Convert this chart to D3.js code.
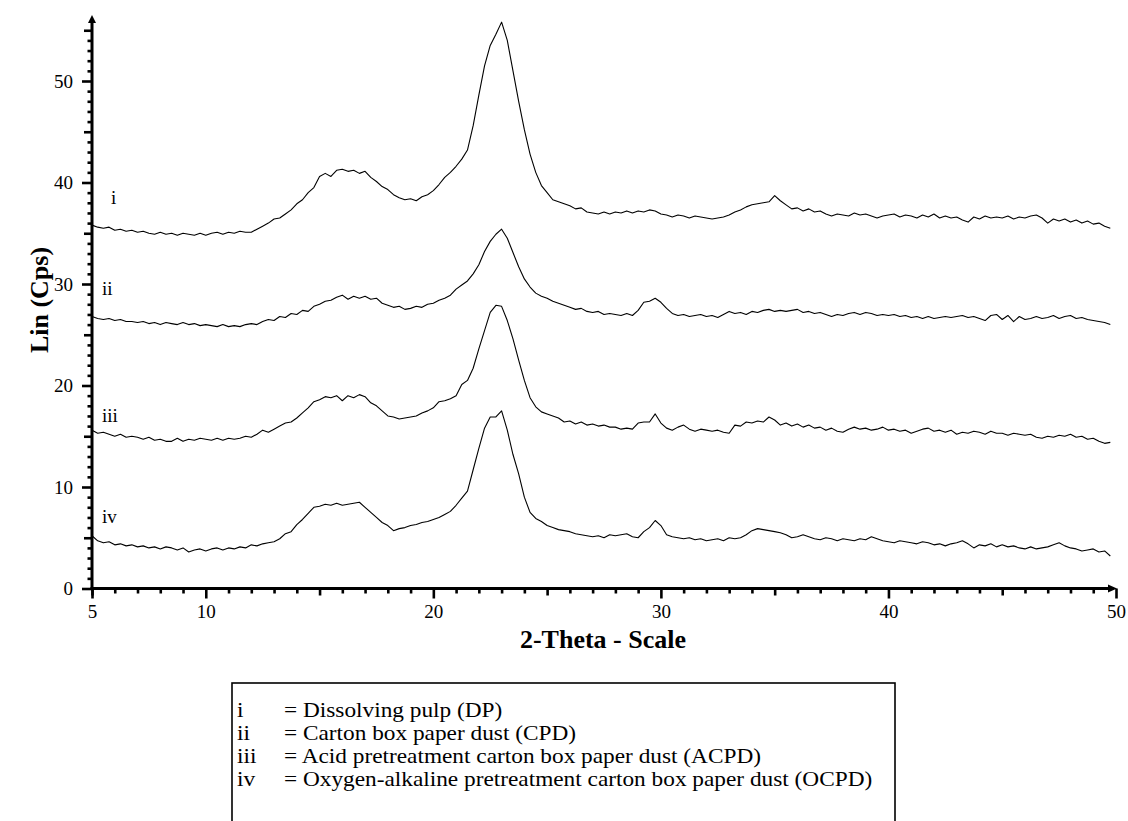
<!DOCTYPE html>
<html>
<head>
  <title>XRD patterns</title>
  <style>
    body { margin: 0; background: #fff; }
    text { font-family: "Liberation Serif", "Times New Roman", serif; fill: #000; }
  </style>
</head>
<body>
  <svg id="chart"></svg>
  <script src="https://d3js.org/d3.v7.min.js"></script>
  <script>
    // scan angles (2-theta, degrees), one row per degree
    const twoTheta = [
      5, 5.25, 5.5, 5.75, 6, 6.25, 6.5, 6.75, 7, 7.25, 7.5, 7.75, 8, 8.25, 8.5, 8.75,
      9, 9.25, 9.5, 9.75, 10, 10.25, 10.5, 10.75, 11, 11.25, 11.5, 11.75, 12, 12.25, 12.5, 12.75,
      13, 13.25, 13.5, 13.75, 14, 14.25, 14.5, 14.75, 15, 15.25, 15.5, 15.75, 16, 16.25, 16.5, 16.75,
      17, 17.25, 17.5, 17.75, 18, 18.25, 18.5, 18.75, 19, 19.25, 19.5, 19.75, 20, 20.25, 20.5, 20.75,
      21, 21.25, 21.5, 21.75, 22, 22.25, 22.5, 22.75, 23, 23.25, 23.5, 23.75, 24, 24.25, 24.5, 24.75,
      25, 25.25, 25.5, 25.75, 26, 26.25, 26.5, 26.75, 27, 27.25, 27.5, 27.75, 28, 28.25, 28.5, 28.75,
      29, 29.25, 29.5, 29.75, 30, 30.25, 30.5, 30.75, 31, 31.25, 31.5, 31.75, 32, 32.25, 32.5, 32.75,
      33, 33.25, 33.5, 33.75, 34, 34.25, 34.5, 34.75, 35, 35.25, 35.5, 35.75, 36, 36.25, 36.5, 36.75,
      37, 37.25, 37.5, 37.75, 38, 38.25, 38.5, 38.75, 39, 39.25, 39.5, 39.75, 40, 40.25, 40.5, 40.75,
      41, 41.25, 41.5, 41.75, 42, 42.25, 42.5, 42.75, 43, 43.25, 43.5, 43.75, 44, 44.25, 44.5, 44.75,
      45, 45.25, 45.5, 45.75, 46, 46.25, 46.5, 46.75, 47, 47.25, 47.5, 47.75, 48, 48.25, 48.5, 48.75,
      49, 49.25, 49.5, 49.75
    ];

    // i - dissolving pulp
    const dp = [
      35.8, 35.6, 35.5, 35.6,  35.3, 35.4, 35.2, 35.3,  35.1, 35.2, 35.0, 34.9,  35.1, 34.9, 35.0, 34.8,
      35.0, 34.9, 34.8, 35.0,  34.8, 35.0, 35.1, 34.9,  35.1, 35.0, 35.2, 35.1,  35.1, 35.4, 35.7, 36.0,
      36.4, 36.5, 36.9, 37.3,  37.9, 38.3, 39.0, 39.5,  40.6, 40.9, 40.6, 41.2,  41.3, 41.1, 41.2, 40.9,
      41.1, 40.5, 40.1, 39.6,  39.3, 38.8, 38.5, 38.3,  38.4, 38.2, 38.6, 38.8,  39.2, 39.8, 40.5, 41.0,
      41.6, 42.3, 43.2, 45.6,  48.6, 51.5, 53.5, 54.6,  55.8, 54.0, 51.0, 48.0,  45.2, 42.8, 41.0, 39.7,
      39.0, 38.3, 38.1, 37.9,  37.7, 37.4, 37.5, 37.1,  37.0, 36.9, 37.1, 36.9,  37.1, 37.0, 37.2, 37.0,
      37.2, 37.1, 37.3, 37.2,  36.9, 36.8, 36.6, 36.8,  36.7, 36.5, 36.7, 36.6,  36.5, 36.4, 36.5, 36.6,
      36.8, 37.1, 37.3, 37.6,  37.8, 37.9, 38.0, 38.1,  38.7, 38.2, 37.8, 37.4,  37.5, 37.2, 37.4, 37.1,
      37.2, 36.9, 36.7, 36.9,  36.8, 36.7, 37.0, 36.8,  36.9, 36.7, 36.5, 36.7,  36.8, 36.9, 36.6, 36.8,
      36.7, 36.5, 36.8, 36.6,  36.9, 36.5, 36.7, 36.5,  36.6, 36.3, 36.1, 36.6,  36.4, 36.7, 36.5, 36.6,
      36.5, 36.7, 36.4, 36.6,  36.5, 36.7, 36.8, 36.5,  36.0, 36.4, 36.2, 36.4,  36.1, 36.3, 36.0, 36.2,
      35.9, 36.0, 35.7, 35.5
    ];

    // ii - carton box paper dust
    const cpd = [
      26.8, 26.6, 26.5, 26.6,  26.4, 26.5, 26.3, 26.3,  26.2, 26.3, 26.1, 26.2,  26.0, 26.2, 26.1, 26.0,
      26.2, 26.0, 26.1, 25.9,  26.0, 25.9, 25.8, 26.0,  25.8, 25.9, 25.8, 26.0,  26.1, 26.0, 26.3, 26.5,
      26.4, 26.8, 26.7, 27.1,  27.0, 27.4, 27.3, 27.8,  28.0, 28.3, 28.4, 28.7,  28.9, 28.5, 28.8, 28.6,
      28.8, 28.5, 28.6, 28.1,  27.9, 27.7, 27.8, 27.5,  27.6, 27.8, 27.7, 28.0,  28.1, 28.4, 28.6, 28.9,
      29.5, 29.9, 30.3, 31.0,  31.9, 33.2, 34.2, 34.9,  35.4, 34.5, 33.1, 31.7,  30.5, 29.7, 29.1, 28.8,
      28.6, 28.3, 28.1, 27.9,  27.7, 27.5, 27.6, 27.3,  27.2, 27.3, 27.0, 27.1,  27.0, 26.9, 27.1, 26.9,
      27.4, 28.2, 28.3, 28.6,  28.2, 27.6, 27.1, 26.9,  27.0, 26.8, 26.9, 27.0,  26.8, 26.9, 26.7, 27.0,
      27.3, 27.1, 27.2, 27.0,  27.3, 27.2, 27.4, 27.5,  27.3, 27.4, 27.3, 27.4,  27.5, 27.2, 27.3, 27.1,
      27.2, 27.0, 26.8, 27.0,  26.9, 27.1, 27.2, 27.0,  27.2, 27.1, 26.9, 27.0,  26.9, 27.0, 26.8, 26.9,
      26.7, 26.8, 26.6, 26.8,  26.6, 26.7, 26.8, 26.7,  26.8, 26.9, 26.7, 26.8,  26.6, 26.4, 26.9, 27.0,
      26.5, 26.9, 26.3, 26.8,  26.5, 26.6, 26.8, 26.6,  26.7, 26.9, 26.6, 26.8,  26.9, 26.6, 26.7, 26.5,
      26.4, 26.3, 26.2, 26.0
    ];

    // iii - acid pretreated
    const acpd = [
      15.6, 15.3, 15.4, 15.2,  15.0, 15.2, 14.9, 15.0,  14.9, 14.7, 14.9, 14.6,  14.7, 14.5, 14.5, 14.8,
      14.5, 14.7, 14.6, 14.8,  14.7, 14.6, 14.8, 14.6,  14.8, 14.7, 14.8, 15.0,  14.9, 15.2, 15.6, 15.4,
      15.7, 16.0, 16.3, 16.4,  16.8, 17.3, 17.8, 18.4,  18.6, 18.9, 18.8, 19.0,  18.5, 19.0, 18.8, 19.1,
      18.9, 18.3, 18.0, 17.5,  17.0, 16.9, 16.7, 16.8,  16.9, 17.0, 17.3, 17.5,  17.8, 18.4, 18.5, 18.7,
      19.0, 20.1, 20.5, 21.7,  23.6, 25.4, 27.2, 27.9,  27.8, 26.4, 24.6, 22.5,  20.5, 18.8, 17.9, 17.4,
      17.2, 17.0, 16.8, 16.4,  16.5, 16.2, 16.4, 16.1,  16.2, 16.0, 16.1, 15.9,  15.9, 15.7, 15.8, 15.7,
      16.3, 16.4, 16.4, 17.2,  16.3, 15.8, 15.6, 15.9,  16.1, 15.7, 15.5, 15.7,  15.6, 15.5, 15.6, 15.4,
      15.3, 16.1, 16.0, 16.4,  16.3, 16.5, 16.4, 16.9,  16.6, 16.1, 16.3, 16.0,  16.2, 15.9, 16.1, 15.8,
      15.9, 15.6, 15.8, 15.5,  15.4, 15.7, 15.9, 15.7,  15.8, 15.6, 15.7, 15.9,  15.6, 15.7, 15.5, 15.6,
      15.3, 15.5, 15.7, 15.8,  15.5, 15.6, 15.4, 15.6,  15.2, 15.4, 15.3, 15.5,  15.4, 15.2, 15.5, 15.3,
      15.3, 15.1, 15.3, 15.2,  15.1, 15.2, 14.9, 14.8,  15.0, 14.9, 15.1, 15.0,  15.2, 14.9, 15.0, 14.7,
      14.8, 14.5, 14.3, 14.4
    ];

    // iv - oxygen-alkaline pretreated
    const ocpd = [
      5.2, 4.7, 4.5, 4.6,  4.3, 4.4, 4.2, 4.3,  4.1, 4.2, 4.0, 4.1,  3.9, 4.1, 4.0, 3.8,
      4.0, 3.6, 3.8, 3.9,  3.7, 3.9, 4.0, 3.8,  4.0, 3.9, 4.1, 4.0,  4.3, 4.2, 4.4, 4.5,
      4.6, 4.9, 5.4, 5.6,  6.3, 6.8, 7.4, 8.0,  8.1, 8.3, 8.2, 8.4,  8.2, 8.3, 8.4, 8.5,
      8.0, 7.5, 7.0, 6.5,  6.2, 5.7, 5.9, 6.0,  6.2, 6.3, 6.5, 6.6,  6.8, 7.0, 7.3, 7.6,
      8.2, 8.9, 9.6, 11.7,  13.8, 15.8, 16.9, 16.9,  17.5, 15.6, 13.2, 11.3,  9.0, 7.5, 6.9, 6.6,
      6.2, 6.0, 5.8, 5.7,  5.6, 5.4, 5.3, 5.2,  5.1, 5.2, 5.0, 5.3,  5.2, 5.3, 5.4, 5.1,
      5.0, 5.6, 6.0, 6.7,  6.2, 5.3, 5.1, 5.0,  4.9, 5.0, 4.8, 4.9,  4.7, 4.8, 4.9, 4.7,
      5.0, 4.9, 5.0, 5.3,  5.7, 5.9, 5.8, 5.7,  5.6, 5.5, 5.3, 5.0,  5.1, 5.3, 5.1, 4.9,
      4.8, 5.0, 4.9, 4.7,  4.9, 4.8, 4.7, 4.9,  4.8, 5.1, 4.9, 4.7,  4.6, 4.5, 4.7, 4.6,
      4.5, 4.4, 4.6, 4.5,  4.3, 4.4, 4.2, 4.4,  4.5, 4.7, 4.4, 4.0,  4.3, 4.2, 4.4, 4.1,
      4.3, 4.1, 4.2, 4.0,  3.9, 4.1, 3.9, 4.0,  4.1, 4.3, 4.5, 4.2,  4.0, 3.9, 3.7, 3.8,
      3.9, 3.6, 3.7, 3.2
    ];

    const curveLabels = ["i", "ii", "iii", "iv"];
    const legendNames = [
      "Dissolving pulp (DP)",
      "Carton box paper dust (CPD)",
      "Acid pretreatment carton box paper dust (ACPD)",
      "Oxygen-alkaline pretreatment carton box paper dust (OCPD)"
    ];
    const xTicks = [5, 10, 20, 30, 40, 50];
    const yTicks = [0, 10, 20, 30, 40, 50];

    const width = 1128, height = 821;
    const svg = d3.select("#chart").attr("width", width).attr("height", height);

    const x = d3.scaleLinear().domain([5, 50]).range([92, 1116]);
    const y = d3.scaleLinear().domain([0, 50]).range([588.5, 81]);
    const yTop = 56.3;

    // curves
    const line = d3.line().x((d, i) => x(twoTheta[i])).y(d => y(d));
    const series = [dp, cpd, acpd, ocpd];
    svg.append("g")
      .selectAll("path")
      .data(series)
      .join("path")
      .attr("d", line)
      .attr("fill", "none")
      .attr("stroke", "#000")
      .attr("stroke-width", 1.1)
      .attr("stroke-linejoin", "round");

    // curve labels next to the y axis
    const labelAt = [{ x: 111, v: 38.5 }, { x: 102, v: 29.5 }, { x: 102, v: 17.0 }, { x: 102, v: 7.0 }];
    svg.append("g")
      .selectAll("text")
      .data(curveLabels)
      .join("text")
      .attr("x", (d, i) => labelAt[i].x)
      .attr("y", (d, i) => y(labelAt[i].v) + 6)
      .attr("font-size", 19)
      .text(d => d);

    // y axis: three tick layers
    const yAxisG = svg.append("g").attr("transform", `translate(${x(5)},0)`);
    yAxisG.append("g")
      .call(d3.axisLeft(y).tickValues(d3.range(0, 56).filter(v => v % 5)).tickSize(4.5).tickFormat(""));
    yAxisG.append("g")
      .call(d3.axisLeft(y).tickValues([5, 15, 25, 35, 45, 55]).tickSize(8).tickFormat(""));
    yAxisG.append("g")
      .call(d3.axisLeft(y).tickValues(yTicks).tickSize(10).tickPadding(9).tickFormat(d3.format("d")));
    yAxisG.selectAll(".domain").remove();
    yAxisG.selectAll("line").attr("stroke", "#000").attr("stroke-width", 2.6);
    yAxisG.selectAll("text").attr("font-size", 19);

    // x axis: three tick layers
    const xAxisG = svg.append("g").attr("transform", `translate(0,${y(0)})`);
    xAxisG.append("g")
      .call(d3.axisBottom(x).tickValues(d3.range(6, 50).filter(v => v % 5)).tickSize(5).tickFormat(""));
    xAxisG.append("g")
      .call(d3.axisBottom(x).tickValues([5, 15, 25, 35, 45]).tickSize(7).tickFormat(""));
    xAxisG.append("g")
      .call(d3.axisBottom(x).tickValues(xTicks).tickSize(10).tickPadding(6).tickFormat(d3.format("d")));
    xAxisG.selectAll(".domain").remove();
    xAxisG.selectAll("line").attr("stroke", "#000").attr("stroke-width", 2.6);
    xAxisG.selectAll("text").attr("font-size", 19);

    // axis lines with arrow heads
    svg.append("line")
      .attr("x1", x(5)).attr("x2", x(5))
      .attr("y1", y(0) + 1.5).attr("y2", y(yTop) + 4)
      .attr("stroke", "#000").attr("stroke-width", 3);
    svg.append("path")
      .attr("d", `M${x(5) - 4},${y(yTop) + 6} L${x(5)},${y(yTop) - 2} L${x(5) + 4},${y(yTop) + 6} Z`)
      .attr("fill", "#000");
    svg.append("line")
      .attr("x1", x(5) - 1.5).attr("x2", x(50) - 4)
      .attr("y1", y(0)).attr("y2", y(0))
      .attr("stroke", "#000").attr("stroke-width", 3);
    svg.append("path")
      .attr("d", `M${x(50) - 8},${y(0) - 4} L${x(50) + 1},${y(0)} L${x(50) - 8},${y(0) + 4} Z`)
      .attr("fill", "#000");

    // axis titles
    svg.append("text")
      .attr("transform", `translate(48,300) rotate(-90)`)
      .attr("text-anchor", "middle")
      .attr("font-size", 26)
      .attr("font-weight", "bold")
      .text("Lin (Cps)");
    svg.append("text")
      .attr("x", 603).attr("y", 648)
      .attr("text-anchor", "middle")
      .attr("font-size", 26)
      .attr("font-weight", "bold")
      .text("2-Theta - Scale");

    // legend box; rows are slightly stretched sideways to match the wide serif face
    const legend = svg.append("g");
    legend.append("rect")
      .attr("x", 232).attr("y", 683)
      .attr("width", 663).attr("height", 160)
      .attr("fill", "none").attr("stroke", "#000").attr("stroke-width", 1.6);
    const rows = legend.selectAll("g.row")
      .data(legendNames)
      .join("g")
      .attr("class", "row")
      .attr("transform", (d, i) => `translate(0,${716.5 + i * 23.3})`);
    rows.append("text")
      .attr("transform", "translate(237,0) scale(1.11,1)")
      .attr("font-size", 21)
      .text((d, i) => curveLabels[i]);
    rows.append("text")
      .attr("transform", "translate(284,0) scale(1.11,1)")
      .attr("font-size", 21)
      .text(d => "= " + d);
  </script>
</body>
</html>
